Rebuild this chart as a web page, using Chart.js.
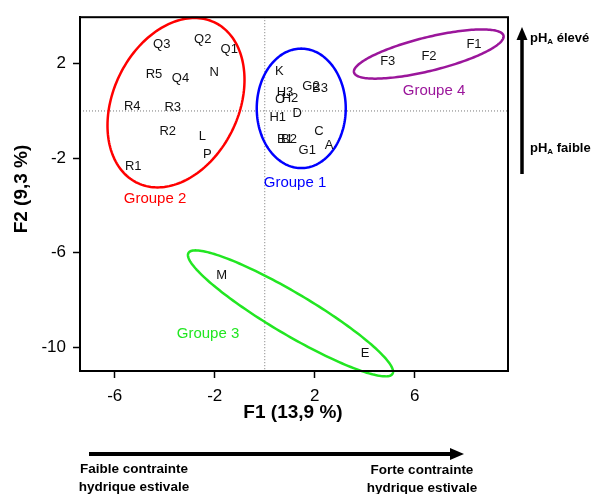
<!DOCTYPE html>
<html>
<head>
<meta charset="utf-8">
<script src="https://cdn.jsdelivr.net/npm/chart.js@4"></script>
<style>
  body { margin: 0; background: #fff; }
  #wrap { width: 598px; height: 494px; position: relative; }
</style>
</head>
<body>
<div id="wrap"><canvas id="acpChart"></canvas></div>
<script>
// site labels and their scores on F1 / F2
const siteNames = ["Q3", "Q2", "Q1", "R5", "Q4", "N", "R4", "R3", "R2", "L", "P", "R1",
  "K", "H3", "G2", "B3", "O", "H2", "D", "H1", "B1", "B2", "C", "G1", "A",
  "F3", "F2", "F1", "M", "E"];
const f1Scores = [-4.12, -2.48, -1.42, -4.43, -3.37, -2.02, -5.30, -3.68, -3.88, -2.50, -2.30, -5.26,
  0.58, 0.81, 1.85, 2.21, 0.61, 1.01, 1.30, 0.52, 0.81, 0.97, 2.17, 1.70, 2.57,
  4.92, 6.57, 8.37, -1.72, 4.01];
const f2Scores = [2.83, 3.04, 2.60, 1.55, 1.37, 1.65, 0.20, 0.16, -0.88, -1.06, -1.82, -2.34,
  1.67, 0.79, 1.02, 0.96, 0.47, 0.55, -0.12, -0.28, -1.19, -1.19, -0.86, -1.65, -1.44,
  2.11, 2.32, 2.81, -6.98, -10.28];

const xTicks = [-6, -2, 2, 6];
const yTicks = [2, -2, -6, -10];

// groups: label, colour, centre + two half-axis vectors (data units), label spot
const groupNames = ["Groupe 1", "Groupe 2", "Groupe 3", "Groupe 4"];
const groupColors = ["#0000ff", "#ff0000", "#22e622", "#9b169b"];
const groupCentres = [[1.46, 0.11], [-3.55, 0.35], [1.03, -8.57], [6.56, 2.41]];
const groupAxisA = [[1.78, 0], [1.52, 3.41], [4.08, -2.56], [2.99, 0.78]];
const groupAxisB = [[0, 2.53], [2.28, -1.11], [-0.43, -0.75], [0.164, -0.69]];
const groupLabelPos = [[1.21, -3.04], [-4.39, -3.71], [-2.27, -9.43], [6.77, 0.84]];

const FONT = "'Liberation Sans', Arial, Helvetica, sans-serif";

const decorPlugin = {
  id: "decor",
  beforeDatasetsDraw(chart) {
    const { ctx, chartArea: a, scales: { x, y } } = chart;
    ctx.save();
    // dotted origin lines
    ctx.strokeStyle = "#777";
    ctx.lineWidth = 1;
    ctx.setLineDash([1, 2]);
    ctx.beginPath();
    const x0 = x.getPixelForValue(0), y0 = y.getPixelForValue(0);
    ctx.moveTo(x0, a.top); ctx.lineTo(x0, a.bottom);
    ctx.moveTo(a.left, y0); ctx.lineTo(a.right, y0);
    ctx.stroke();
    ctx.setLineDash([]);

    // ellipses
    groupNames.forEach((g, i) => {
      const [cx, cy] = groupCentres[i];
      const [ax, ay] = groupAxisA[i];
      const [bx, by] = groupAxisB[i];
      ctx.strokeStyle = groupColors[i];
      ctx.lineWidth = 2.5;
      ctx.beginPath();
      for (let k = 0; k <= 180; k++) {
        const t = (k / 180) * Math.PI * 2;
        const px = x.getPixelForValue(cx + Math.cos(t) * ax + Math.sin(t) * bx);
        const py = y.getPixelForValue(cy + Math.cos(t) * ay + Math.sin(t) * by);
        if (k === 0) ctx.moveTo(px, py); else ctx.lineTo(px, py);
      }
      ctx.closePath();
      ctx.stroke();

      ctx.fillStyle = groupColors[i];
      ctx.font = "15px " + FONT;
      ctx.textAlign = "center";
      ctx.textBaseline = "middle";
      ctx.fillText(g, x.getPixelForValue(groupLabelPos[i][0]), y.getPixelForValue(groupLabelPos[i][1]));
    });
    ctx.restore();
  },
  afterDatasetsDraw(chart) {
    const { ctx, chartArea: a } = chart;
    ctx.save();
    // site labels
    const meta = chart.getDatasetMeta(0);
    ctx.fillStyle = "#111";
    ctx.font = "13px " + FONT;
    ctx.textAlign = "center";
    ctx.textBaseline = "middle";
    meta.data.forEach((pt, i) => ctx.fillText(siteNames[i], pt.x, pt.y));

    // box round the plot
    ctx.strokeStyle = "#000";
    ctx.lineWidth = 2;
    ctx.strokeRect(a.left, a.top, a.right - a.left, a.bottom - a.top);

    // axis titles
    ctx.fillStyle = "#000";
    ctx.font = "bold 19px " + FONT;
    ctx.fillText("F1 (13,9 %)", 293, 413);
    ctx.save();
    ctx.translate(22, 189);
    ctx.rotate(-Math.PI / 2);
    ctx.fillText("F2 (9,3 %)", 0, 0);
    ctx.restore();

    // horizontal arrow
    ctx.lineWidth = 4;
    ctx.beginPath();
    ctx.moveTo(89, 454); ctx.lineTo(452, 454);
    ctx.stroke();
    ctx.beginPath();
    ctx.moveTo(464, 454); ctx.lineTo(450, 448); ctx.lineTo(450, 460); ctx.closePath();
    ctx.fill();
    ctx.font = "bold 13.5px " + FONT;
    ctx.fillText("Faible contrainte", 134, 469);
    ctx.fillText("hydrique estivale", 134, 487);
    ctx.fillText("Forte contrainte", 422, 470);
    ctx.fillText("hydrique estivale", 422, 488);

    // vertical arrow
    ctx.lineWidth = 3.5;
    ctx.beginPath();
    ctx.moveTo(522, 174); ctx.lineTo(522, 38);
    ctx.stroke();
    ctx.beginPath();
    ctx.moveTo(522, 27); ctx.lineTo(516.5, 40); ctx.lineTo(527.5, 40); ctx.closePath();
    ctx.fill();

    function phLabel(rest, yPos) {
      ctx.textAlign = "left";
      ctx.font = "bold 13px " + FONT;
      let px = 530;
      ctx.fillText("pH", px, yPos);
      px += ctx.measureText("pH").width;
      ctx.font = "bold 8px " + FONT;
      ctx.fillText("A", px, yPos + 4);
      px += ctx.measureText("A").width;
      ctx.font = "bold 13px " + FONT;
      ctx.fillText(rest, px, yPos);
    }
    phLabel(" élevé", 38);
    phLabel(" faible", 148);
    ctx.restore();
  }
};

new Chart(document.getElementById("acpChart"), {
  type: "scatter",
  data: {
    datasets: [
      {
        data: siteNames.map((n, i) => ({ x: f1Scores[i], y: f2Scores[i] })),
        pointRadius: 0,
        pointHoverRadius: 0,
      },
    ],
  },
  options: {
    responsive: true,
    maintainAspectRatio: false,
    animation: false,
    events: [],
    layout: { padding: { left: 0, top: 12, right: 90, bottom: 0 } },
    plugins: { legend: { display: false }, tooltip: { enabled: false } },
    scales: {
      x: {
        type: "linear",
        min: -7.39,
        max: 9.73,
        afterBuildTicks: (s) => { s.ticks = xTicks.map((v) => ({ value: v })); },
        afterFit: (s) => { s.height = 123; },
        grid: { drawOnChartArea: false, drawTicks: true, tickLength: 7, tickColor: "#000", tickWidth: 1.5 },
        border: { display: true, color: "#000", width: 2 },
        ticks: { color: "#000", font: { size: 17, family: FONT }, padding: 8, maxRotation: 0 },
      },
      y: {
        type: "linear",
        min: -11.01,
        max: 3.97,
        afterBuildTicks: (s) => { s.ticks = yTicks.map((v) => ({ value: v })); },
        afterFit: (s) => { s.width = 80; },
        grid: { drawOnChartArea: false, drawTicks: true, tickLength: 7, tickColor: "#000", tickWidth: 1.5 },
        border: { display: true, color: "#000", width: 2 },
        ticks: { color: "#000", font: { size: 17, family: FONT }, padding: 7 },
      },
    },
  },
  plugins: [decorPlugin],
});
</script>
</body>
</html>
